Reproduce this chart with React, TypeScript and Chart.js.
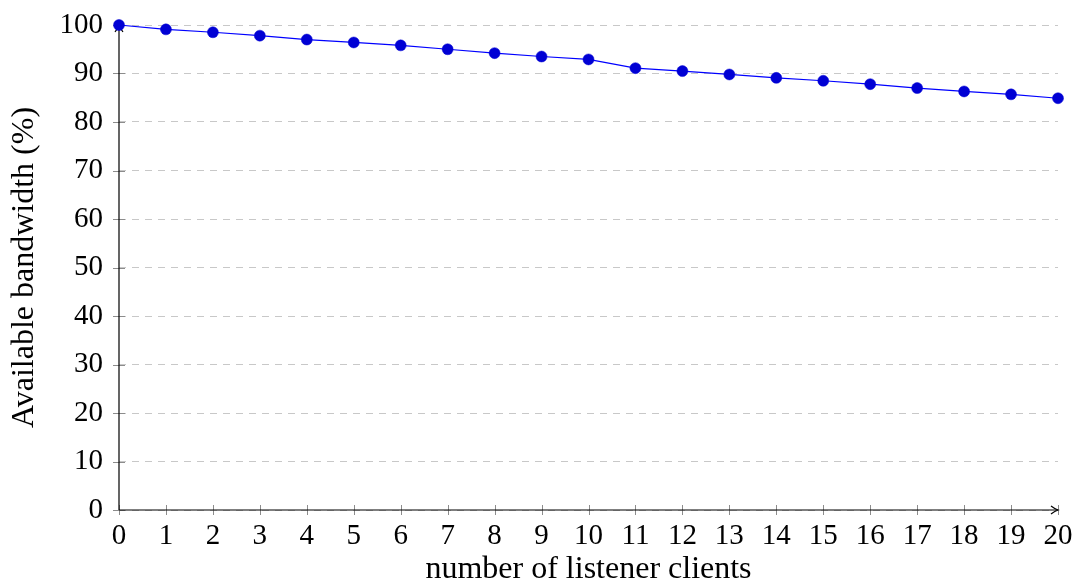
import React, { useEffect, useRef } from "react";
import { Chart, registerables } from "chart.js";

Chart.register(...registerables);

const clients: number[] = [0, 1, 2, 3, 4, 5, 6, 7, 8, 9, 10, 11, 12, 13, 14, 15, 16, 17, 18, 19, 20];
const bandwidth: number[] = [100, 99.1, 98.5, 97.8, 97.0, 96.4, 95.8, 95.0, 94.2, 93.5, 92.9, 91.1, 90.5, 89.8, 89.1, 88.5, 87.8, 87.0, 86.3, 85.7, 84.9];
const xTicks: number[] = clients;
const yTicks: number[] = [0, 10, 20, 30, 40, 50, 60, 70, 80, 90, 100];

const FONT = "'Liberation Serif', 'DejaVu Serif', serif";

function drawArrow(ctx: CanvasRenderingContext2D, x: number, y: number, dir: "right" | "up") {
  ctx.save();
  ctx.translate(x, y);
  if (dir === "up") ctx.rotate(-Math.PI / 2);
  ctx.beginPath();
  ctx.moveTo(-7, -4);
  ctx.quadraticCurveTo(-3, -1, 0, 0);
  ctx.quadraticCurveTo(-3, 1, -7, 4);
  ctx.strokeStyle = "#000";
  ctx.lineWidth = 1.2;
  ctx.stroke();
  ctx.restore();
}

const axesPlugin = {
  id: "texAxes",
  beforeDatasetsDraw(chart: any) {
    const { ctx, chartArea, scales } = chart;
    const xs = scales.x;
    const ys = scales.y;
    const x0 = xs.getPixelForValue(0);
    const y0 = ys.getPixelForValue(0);
    ctx.save();
    ctx.strokeStyle = "rgb(140,140,140)";
    ctx.lineWidth = 1;
    ctx.beginPath();
    for (const t of xTicks) {
      const px = Math.round(xs.getPixelForValue(t)) + 0.5;
      ctx.moveTo(px, y0 - 5);
      ctx.lineTo(px, y0 + 5);
    }
    for (const t of yTicks) {
      const py = Math.round(ys.getPixelForValue(t)) + 0.5;
      ctx.moveTo(x0 - 6, py);
      ctx.lineTo(x0 + 6, py);
    }
    ctx.stroke();
    ctx.strokeStyle = "#000";
    ctx.lineWidth = 1.2;
    ctx.beginPath();
    ctx.moveTo(x0, y0);
    ctx.lineTo(chartArea.right, y0);
    ctx.moveTo(x0, y0);
    ctx.lineTo(x0, chartArea.top);
    ctx.stroke();
    drawArrow(ctx, chartArea.right, y0, "right");
    drawArrow(ctx, x0, chartArea.top, "up");
    ctx.restore();
  },
};

export default function App() {
  const ref = useRef<HTMLCanvasElement | null>(null);
  useEffect(() => {
    if (!ref.current) return;
    const chart = new Chart(ref.current, {
      type: "line",
      data: {
        labels: clients,
        datasets: [
          {
            data: clients.map((c, i) => ({ x: c, y: bandwidth[i] })),
            borderColor: "#0000ff",
            borderWidth: 1.2,
            backgroundColor: "#0000d4",
            pointBackgroundColor: "#0000d4",
            pointBorderColor: "#0000d4",
            pointRadius: 5.5,
            pointBorderWidth: 0.5,
            tension: 0,
            clip: false as any,
          },
        ],
      },
      options: {
        responsive: false,
        animation: false,
        devicePixelRatio: 1,
        layout: { padding: { top: 25, right: 17, left: 0, bottom: 0 } },
        plugins: { legend: { display: false }, tooltip: { enabled: false } },
        scales: {
          x: {
            type: "linear",
            min: 0,
            max: 20,
            afterFit: (s: any) => {
              s.height = 74;
              s.paddingLeft = 0;
              s.paddingRight = 0;
            },
            afterBuildTicks: (s: any) => {
              s.ticks = xTicks.map((v) => ({ value: v }));
            },
            grid: { display: false, drawTicks: false },
            border: { display: false },
            ticks: {
              padding: 9,
              color: "#000",
              font: { family: FONT, size: 29 },
              maxRotation: 0,
              autoSkip: false,
            },
            title: {
              display: true,
              text: "number of listener clients",
              color: "#000",
              font: { family: FONT, size: 32, lineHeight: 1 },
              padding: { top: 0, bottom: -2 },
            },
          },
          y: {
            type: "linear",
            min: 0,
            max: 100,
            afterFit: (s: any) => {
              s.width = 119;
              s.paddingTop = 0;
              s.paddingBottom = 0;
            },
            afterBuildTicks: (s: any) => {
              s.ticks = yTicks.map((v) => ({ value: v }));
            },
            grid: {
              color: "rgb(200,200,200)",
              lineWidth: 1,
              drawTicks: false,
            },
            border: { display: false, dash: [7, 6] } as any,
            ticks: {
              padding: 16,
              color: "#000",
              font: { family: FONT, size: 29 },
              autoSkip: false,
            },
            title: {
              display: true,
              text: "Available bandwidth (%)",
              color: "#000",
              font: { family: FONT, size: 32, lineHeight: 1 },
              padding: { top: 9, bottom: 0 },
            },
          },
        },
      },
      plugins: [axesPlugin],
    });
    return () => chart.destroy();
  }, []);
  return (
    <div style={{ position: "absolute", left: 0, top: 0, width: 1075, height: 584, background: "#fff" }}>
      <canvas ref={ref} width={1075} height={584} style={{ width: 1075, height: 584 }} />
    </div>
  );
}
